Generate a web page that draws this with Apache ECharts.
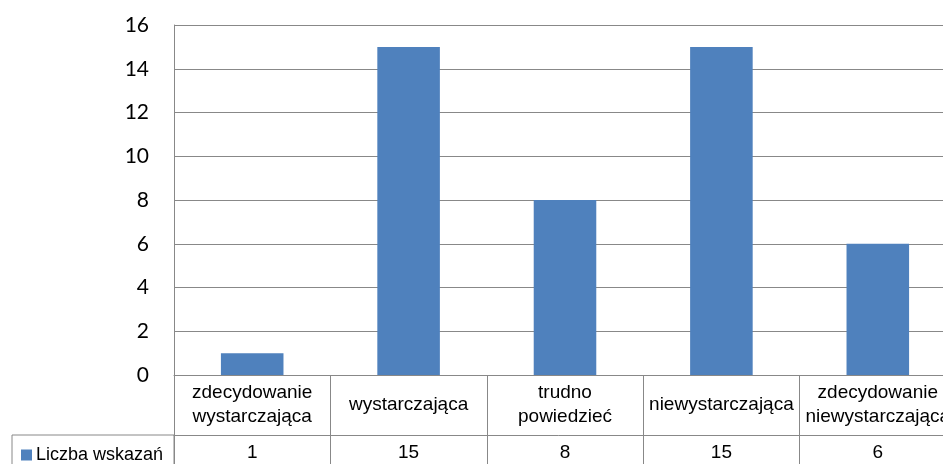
<!DOCTYPE html>
<html>
<head>
<meta charset="utf-8">
<script src="https://cdn.jsdelivr.net/npm/echarts@6/dist/echarts.min.js"></script>
<style>
html,body{margin:0;padding:0;background:#fff;}
#chart{width:943px;height:464px;}
</style>
</head>
<body>
<div id="chart"></div>
<script>
var categories = ['zdecydowanie\nwystarczająca', 'wystarczająca', 'trudno\npowiedzieć', 'niewystarczająca', 'zdecydowanie\nniewystarczająca'];
var values = [1, 15, 8, 15, 6];
var seriesName = 'Liczba wskazań';
var yTicks = [0, 2, 4, 6, 8, 10, 12, 14, 16];

var narrow = "'Liberation Sans Narrow','Arial Narrow','Liberation Sans',sans-serif";
var lineColor = '#888888';

var chart = echarts.init(document.getElementById('chart'), null, {renderer: 'canvas'});
chart.setOption({
  animation: false,
  backgroundColor: '#ffffff',
  grid: {left: 174, top: 25, width: 782, height: 350, containLabel: false, outerBoundsMode: 'none'},
  legend: {
    data: [seriesName],
    left: 21, top: 446,
    icon: 'rect', itemWidth: 11, itemHeight: 11, itemGap: 5,
    padding: 0,
    textStyle: {fontFamily: narrow, fontSize: 18, color: '#000', padding: [0, 0, 0, -1]}
  },
  graphic: [
    {type: 'rect', shape: {x: 12, y: 435, width: 162, height: 60}, style: {fill: 'none', stroke: lineColor, lineWidth: 1}, silent: true}
  ],
  xAxis: [
    {
      type: 'category', data: categories, position: 'bottom',
      axisLine: {show: true, lineStyle: {color: lineColor, width: 1}},
      axisTick: {show: true, length: 100, lineStyle: {color: lineColor, width: 1}},
      axisLabel: {interval: 0, margin: 30, verticalAlign: 'middle', fontFamily: narrow, fontSize: 19, lineHeight: 24, color: '#000', hideOverlap: false},
      splitLine: {show: false}
    },
    {
      type: 'category', data: categories, position: 'bottom', offset: 60,
      axisLine: {show: true, lineStyle: {color: lineColor, width: 1}},
      axisTick: {show: false},
      axisLabel: {interval: 0, margin: 18, verticalAlign: 'middle', fontFamily: narrow, fontSize: 19, color: '#000',
        formatter: function (v, i) { return String(values[i]); }},
      splitLine: {show: false}
    }
  ],
  yAxis: {
    type: 'value', min: yTicks[0], max: yTicks[yTicks.length - 1], interval: 2,
    axisLine: {show: true, lineStyle: {color: lineColor, width: 1}},
    axisTick: {show: false},
    axisLabel: {margin: 25, fontFamily: "Lato,'Open Sans',sans-serif", fontSize: 21, color: '#000'},
    splitLine: {show: true, lineStyle: {color: lineColor, width: 1}}
  },
  series: [{
    name: seriesName, type: 'bar', data: values, xAxisIndex: 0,
    barWidth: '40%',
    itemStyle: {color: '#4F81BD'}
  }]
});
</script>
</body>
</html>
